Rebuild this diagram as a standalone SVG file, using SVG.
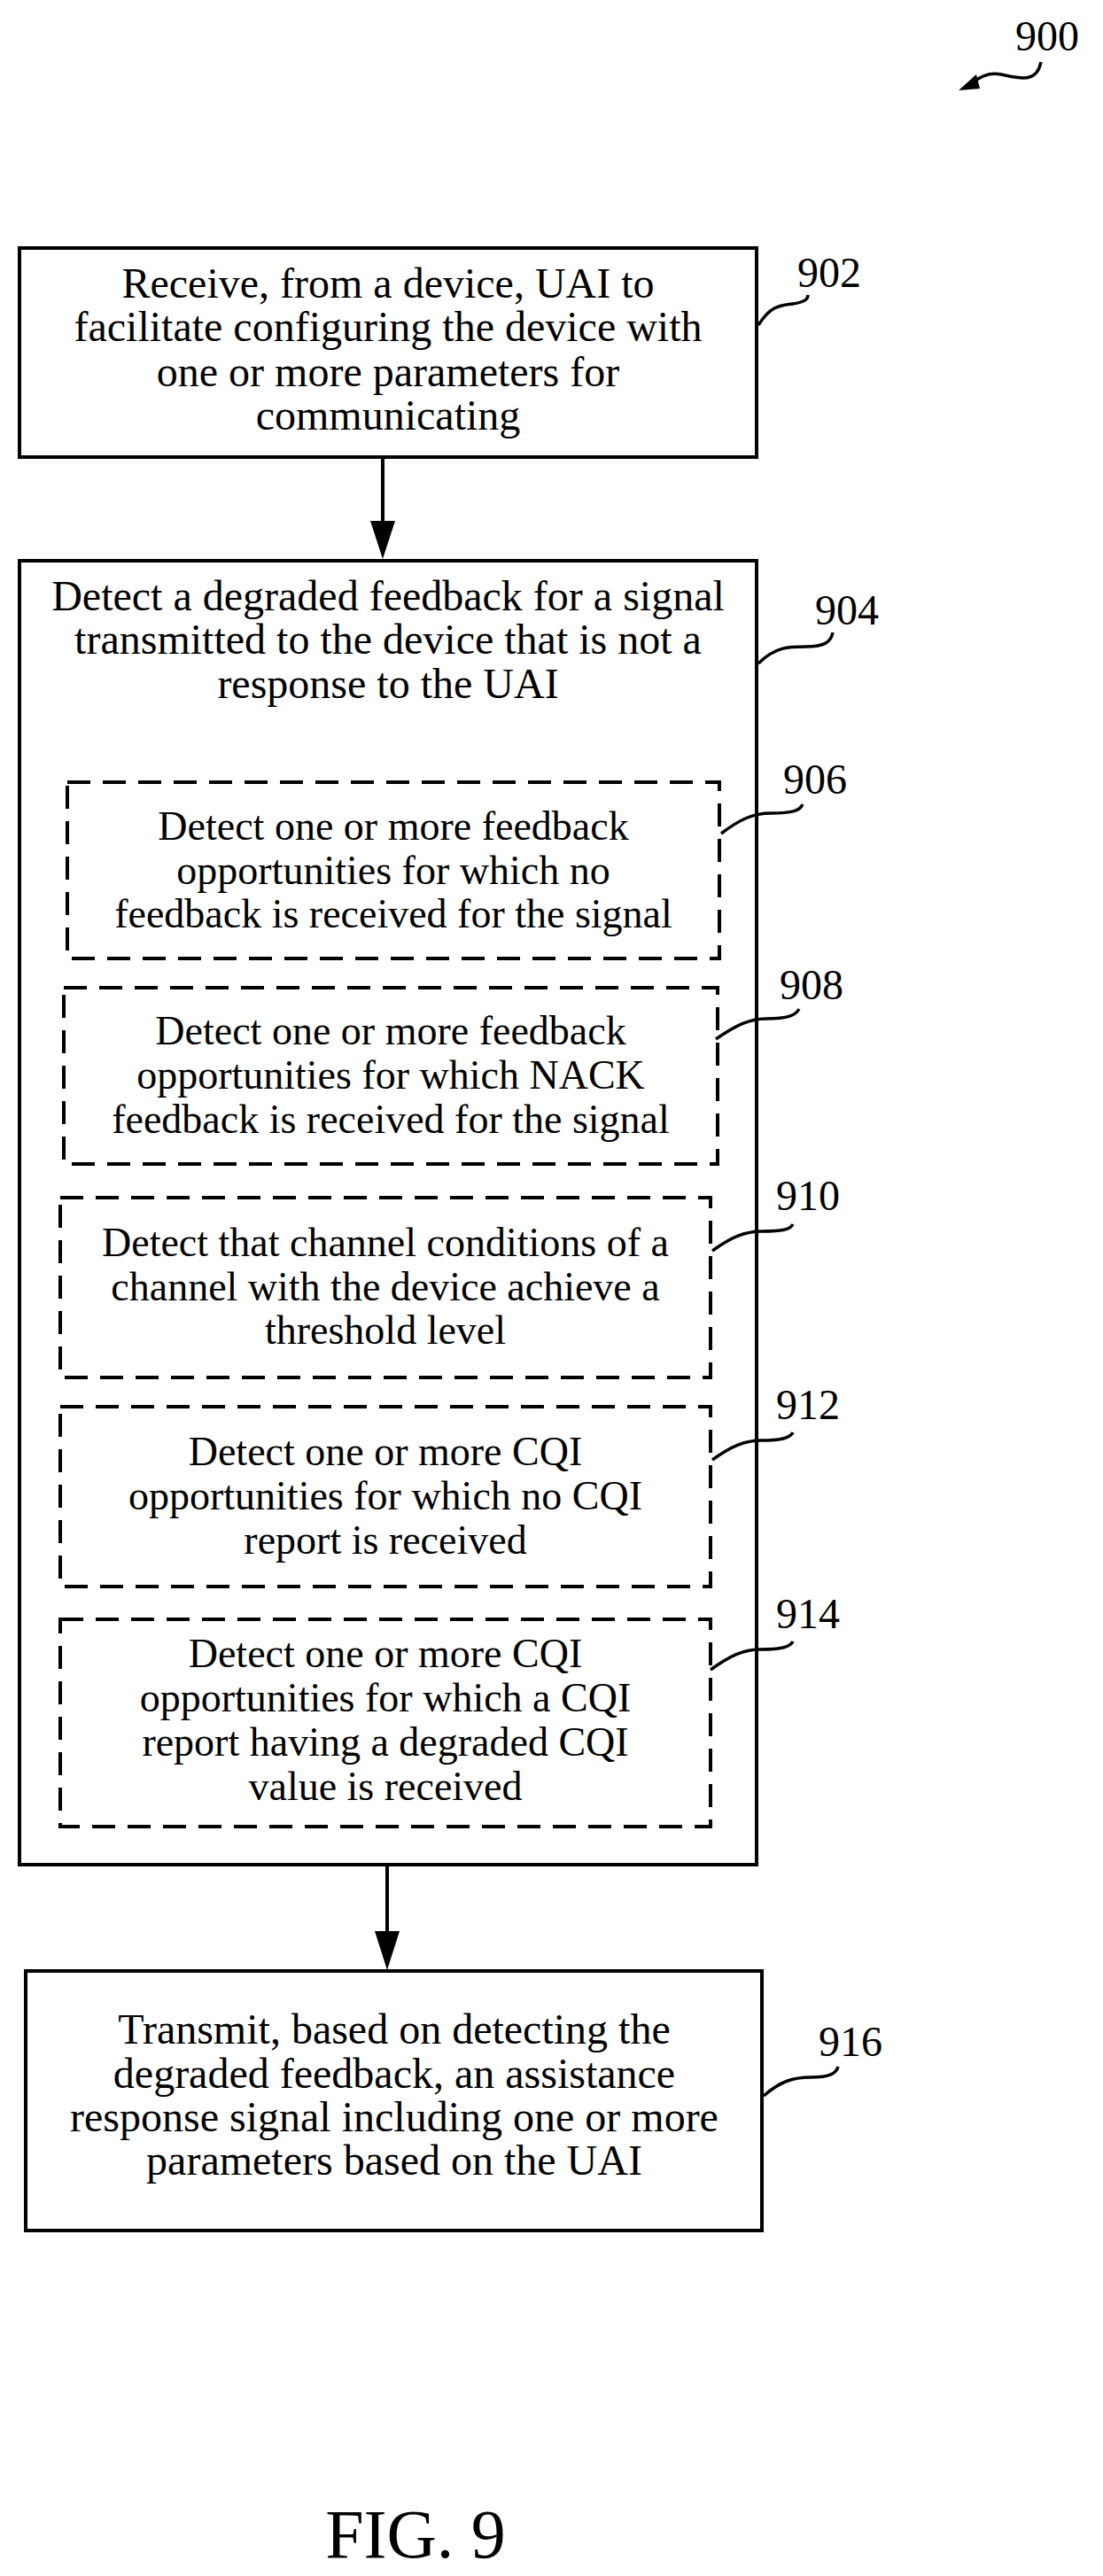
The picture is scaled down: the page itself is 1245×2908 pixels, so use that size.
<svg xmlns="http://www.w3.org/2000/svg" width="1245" height="2908" viewBox="0 0 1245 2908">
<style>
.box{fill:#fff;stroke:#000;stroke-width:4}
.dash{fill:none;stroke:#000;stroke-width:4;stroke-dasharray:26,14}
.t{font-family:"Liberation Serif","Times New Roman",serif;font-size:48px;text-anchor:middle;fill:#000}
.s{font-family:"Liberation Serif","Times New Roman",serif;font-size:46px;text-anchor:middle;fill:#000}
.lbl{font-family:"Liberation Serif","Times New Roman",serif;font-size:48px;fill:#000}
.sq{fill:none;stroke:#000;stroke-width:3.5}
.ln{stroke:#000;stroke-width:4;fill:none}
</style>
<g id="n900">
<text class="lbl" x="1146" y="57" font-size="54">900</text>
<path class="sq" d="M1175,70 C1170,95 1150,88 1130,84 C1112,80 1100,92 1090,98"/>
<path d="M1082,102 L1102,84 L1106,100 Z" fill="#000"/>
</g>
<g id="connectors">
<line class="ln" x1="432" y1="516" x2="432" y2="590"/>
<path d="M418,588 L446,588 L432,631 Z" fill="#000"/>
<line class="ln" x1="437" y1="2105" x2="437" y2="2182"/>
<path d="M423,2180 L451,2180 L437,2224 Z" fill="#000"/>
</g>
<g id="n902">
<rect class="box" x="22" y="280" width="832" height="236"/>
<text class="t" x="438" y="336">Receive, from a device, UAI to</text>
<text class="t" x="438" y="385">facilitate configuring the device with</text>
<text class="t" x="438" y="436">one or more parameters for</text>
<text class="t" x="438" y="485">communicating</text>
<text class="lbl" x="900" y="324">902</text>
<path class="sq" d="M856,367 C870,345 880,345 895,343 C908,341 912,338 912,333"/>
</g>
<g id="n904">
<rect class="box" x="22" y="633" width="832" height="1472"/>
<text class="t" x="438" y="689">Detect a degraded feedback for a signal</text>
<text class="t" x="438" y="738">transmitted to the device that is not a</text>
<text class="t" x="438" y="788">response to the UAI</text>
<text class="lbl" x="920" y="705">904</text>
<path class="sq" d="M856,749 C875,730 890,730 910,730 C930,730 938,725 940,714"/>
</g>
<g id="n906">
<rect class="dash" x="76" y="883" width="736" height="199"/>
<text class="s" x="444" y="948">Detect one or more feedback</text>
<text class="s" x="444" y="998">opportunities for which no</text>
<text class="s" x="444" y="1047">feedback is received for the signal</text>
<text class="lbl" x="884" y="896">906</text>
<path class="sq" d="M814,941 C835,925 850,918 870,918 C895,918 903,915 906,908"/>
</g>
<g id="n908">
<rect class="dash" x="72" y="1115" width="738" height="199"/>
<text class="s" x="441" y="1179">Detect one or more feedback</text>
<text class="s" x="441" y="1229">opportunities for which NACK</text>
<text class="s" x="441" y="1279">feedback is received for the signal</text>
<text class="lbl" x="880" y="1128">908</text>
<path class="sq" d="M808,1173 C830,1158 845,1150 865,1150 C890,1150 898,1146 902,1139"/>
</g>
<g id="n910">
<rect class="dash" x="68" y="1352" width="734" height="203"/>
<text class="s" x="435" y="1418">Detect that channel conditions of a</text>
<text class="s" x="435" y="1468">channel with the device achieve a</text>
<text class="s" x="435" y="1517">threshold level</text>
<text class="lbl" x="876" y="1366">910</text>
<path class="sq" d="M804,1412 C825,1397 840,1390 860,1390 C883,1390 892,1388 895,1382"/>
</g>
<g id="n912">
<rect class="dash" x="68" y="1588" width="734" height="203"/>
<text class="s" x="435" y="1654">Detect one or more CQI</text>
<text class="s" x="435" y="1704">opportunities for which no CQI</text>
<text class="s" x="435" y="1754">report is received</text>
<text class="lbl" x="876" y="1602">912</text>
<path class="sq" d="M804,1648 C825,1633 840,1626 860,1626 C883,1626 892,1623 895,1617"/>
</g>
<g id="n914">
<rect class="dash" x="68" y="1828" width="734" height="234"/>
<text class="s" x="435" y="1882">Detect one or more CQI</text>
<text class="s" x="435" y="1932">opportunities for which a CQI</text>
<text class="s" x="435" y="1982">report having a degraded CQI</text>
<text class="s" x="435" y="2032">value is received</text>
<text class="lbl" x="876" y="1838">914</text>
<path class="sq" d="M802,1885 C823,1870 838,1862 858,1862 C883,1862 892,1859 895,1853"/>
</g>
<g id="n916">
<rect class="box" x="29" y="2225" width="831" height="293"/>
<text class="t" x="445" y="2307">Transmit, based on detecting the</text>
<text class="t" x="445" y="2357">degraded feedback, an assistance</text>
<text class="t" x="445" y="2406">response signal including one or more</text>
<text class="t" x="445" y="2455">parameters based on the UAI</text>
<text class="lbl" x="924" y="2321">916</text>
<path class="sq" d="M862,2366 C880,2350 895,2345 915,2345 C938,2345 944,2340 946,2333"/>
</g>
<text x="469" y="2887" font-family="Liberation Serif,Times New Roman,serif" font-size="78" text-anchor="middle">FIG. 9</text>
</svg>
